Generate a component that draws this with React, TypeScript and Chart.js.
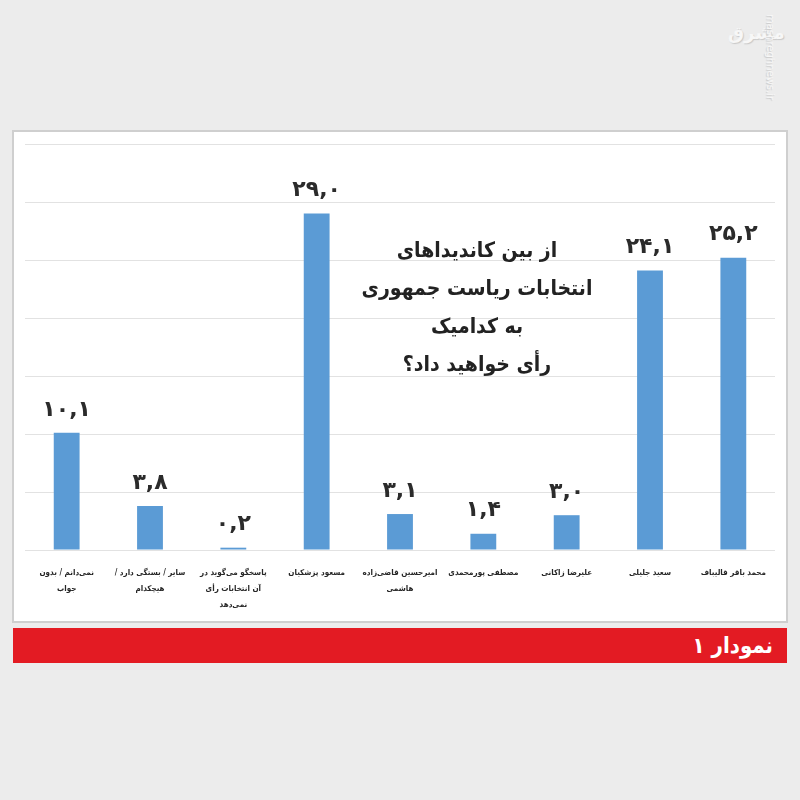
import React, { useEffect, useRef } from "react";
import { Chart, registerables } from "chart.js";

Chart.register(...registerables);

const categories: string[][] = [
  ["نمی‌دانم / بدون", "جواب"],
  ["سایر / بستگی دارد /\u200F", "هیچکدام"],
  ["پاسخگو می‌گوید در", "آن انتخابات رأی", "نمی‌دهد"],
  ["مسعود پزشکیان"],
  ["امیرحسین قاضی‌زاده", "هاشمی"],
  ["مصطفی پورمحمدی"],
  ["علیرضا زاکانی"],
  ["سعید جلیلی"],
  ["محمد باقر قالیباف"],
];
const values: number[] = [10.1, 3.8, 0.2, 29.0, 3.1, 1.4, 3.0, 24.1, 25.2];
const valueLabels: string[] = ["۱۰,۱", "۳,۸", "۰,۲", "۲۹,۰", "۳,۱", "۱,۴", "۳,۰", "۲۴,۱", "۲۵,۲"];
const yMax = 35;
const yStep = 5;
const questionLines: string[] = [
  "از بین کاندیداهای",
  "انتخابات ریاست جمهوری",
  "به کدامیک",
  "رأی خواهید داد؟\u200F",
];
const footerText = "نمودار ۱";

const FONT = "'DejaVu Sans', sans-serif";
const CFONT = "'DejaVu Sans Condensed', 'DejaVu Sans', sans-serif";

const valueLabelPlugin = {
  id: "valueLabels",
  afterDatasetsDraw(chart: any) {
    const ctx = chart.ctx;
    const meta = chart.getDatasetMeta(0);
    ctx.save();
    ctx.font = `bold 22px ${FONT}`;
    ctx.fillStyle = "#2b2b2b";
    ctx.textAlign = "center";
    ctx.textBaseline = "bottom";
    meta.data.forEach((bar: any, i: number) => {
      ctx.fillText(valueLabels[i], bar.x, bar.y - 12);
    });
    ctx.restore();
  },
};

function BarChart() {
  const ref = useRef<HTMLCanvasElement | null>(null);
  useEffect(() => {
    if (!ref.current) return;
    const chart = new Chart(ref.current, {
      type: "bar",
      data: {
        labels: categories,
        datasets: [
          {
            data: values,
            backgroundColor: "#5b9bd5",
            borderWidth: 0,
            barPercentage: 0.31,
            categoryPercentage: 1,
          },
        ],
      },
      options: {
        animation: false,
        responsive: false,
        maintainAspectRatio: false,
        layout: { padding: { left: 12, right: 12, top: 12, bottom: 0 } },
        plugins: {
          legend: { display: false },
          tooltip: { enabled: false },
          title: { display: false },
        },
        scales: {
          x: {
            grid: { display: false },
            border: { display: false },
            ticks: {
              autoSkip: false,
              maxRotation: 0,
              minRotation: 0,
              padding: 7,
              color: "#262626",
              font: { family: CFONT, size: 8, weight: "bold", lineHeight: 2 },
            },
            afterFit: (scale: any) => {
              scale.height = 70;
            },
          },
          y: {
            min: 0,
            max: yMax,
            ticks: { display: false, stepSize: yStep },
            grid: { color: "#e2e2e2", lineWidth: 1, drawTicks: false },
            border: { display: false },
            afterFit: (scale: any) => {
              scale.width = 0;
            },
          },
        },
      },
      plugins: [valueLabelPlugin],
    });
    return () => chart.destroy();
  }, []);
  return <canvas ref={ref} width={774} height={488} style={{ display: "block" }} />;
}

export default function App() {
  useEffect(() => {
    document.body.style.margin = "0";
    document.body.style.background = "#ececec";
  }, []);
  return (
    <div
      style={{
        position: "fixed",
        left: 0,
        top: 0,
        width: 800,
        height: 800,
        background: "#ececec",
        overflow: "hidden",
        fontFamily: FONT,
      }}
    >
      {/* watermark */}
      <div
        style={{
          position: "absolute",
          left: 728,
          top: 22,
          fontSize: 18,
          fontWeight: "bold",
          color: "#f7f7f7",
          textShadow: "1px 1px 1px #c9c9c9",
          direction: "rtl",
        }}
      >
        مشرق
      </div>
      <div
        style={{
          position: "absolute",
          left: 776,
          top: 14,
          fontSize: 10,
          color: "#f7f7f7",
          textShadow: "1px 1px 1px #c9c9c9",
          transform: "rotate(90deg)",
          transformOrigin: "0 0",
          whiteSpace: "nowrap",
        }}
      >
        mashreghnews.ir
      </div>
      {/* panel */}
      <div
        style={{
          position: "absolute",
          left: 12,
          top: 130,
          width: 772,
          height: 489,
          background: "#ffffff",
          border: "2px solid #cfcfcf",
        }}
      />
      <div style={{ position: "absolute", left: 13, top: 132 }}>
        <BarChart />
      </div>
      <div
        style={{
          position: "absolute",
          left: 327,
          top: 231,
          width: 300,
          textAlign: "center",
          direction: "rtl",
          fontFamily: CFONT,
          fontSize: 21,
          fontWeight: "bold",
          lineHeight: "38px",
          color: "#222222",
        }}
      >
        {questionLines.map((l, i) => (
          <div key={i}>{l}</div>
        ))}
      </div>
      {/* footer */}
      <div
        style={{
          position: "absolute",
          left: 13,
          top: 628,
          width: 774,
          height: 35,
          background: "#e31b23",
          boxSizing: "border-box",
          paddingRight: 14,
          direction: "rtl",
          color: "#ffffff",
          fontFamily: CFONT,
          fontSize: 22,
          fontWeight: "bold",
          lineHeight: "35px",
        }}
      >
        {footerText}
      </div>
    </div>
  );
}
